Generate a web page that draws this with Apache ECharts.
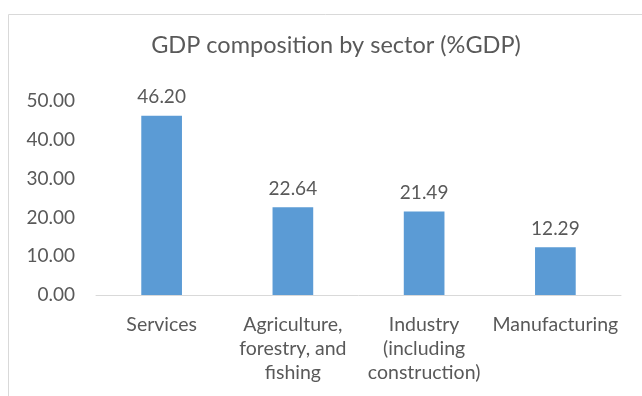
<!DOCTYPE html>
<html><head><meta charset="utf-8">
<script src="https://cdn.jsdelivr.net/npm/echarts@6/dist/echarts.min.js"></script>
<style>html,body{margin:0;padding:0;background:#fff}#c{width:642px;height:396px}</style>
</head><body><div id="c"></div>
<script>
var title = 'GDP composition by sector (%GDP)';
var categories = ['Services', 'Agriculture,\nforestry, and\nfishing', 'Industry\n(including\nconstruction)', 'Manufacturing'];
var values = [46.20, 22.64, 21.49, 12.29];
var yTicks = {min: 0, max: 50, interval: 10};

var FONT = 'Lato';
var TXT = '#595959';
var chart = echarts.init(document.getElementById('c'), null, {renderer: 'canvas'});
chart.setOption({
  animation: false,
  textStyle: {fontFamily: FONT},
  graphic: [{type: 'rect', shape: {x: 8.5, y: 14.5, width: 700, height: 500}, style: {fill: 'none', stroke: '#D9D9D9', lineWidth: 1}, z: -1}],
  title: {text: title, left: 331, textAlign: 'center', top: 28, textStyle: {fontFamily: FONT, fontSize: 23.5, fontWeight: 'normal', color: TXT}},
  grid: {left: 96, right: 21, top: 101, bottom: 101, containLabel: false},
  xAxis: {type: 'category', data: categories,
    axisLine: {lineStyle: {color: '#D9D9D9', width: 1}}, axisTick: {show: false},
    axisLabel: {color: TXT, fontFamily: FONT, fontSize: 19.5, lineHeight: 24, margin: 18, interval: 0}},
  yAxis: {type: 'value', min: yTicks.min, max: yTicks.max, interval: yTicks.interval,
    splitLine: {show: false}, axisLine: {show: false}, axisTick: {show: false},
    axisLabel: {color: TXT, fontFamily: FONT, fontSize: 19, margin: 21, formatter: function(v){return v.toFixed(2);}}},
  series: [{type: 'bar', data: values, barWidth: '31%', itemStyle: {color: '#5B9BD5'},
    label: {show: true, position: 'top', distance: 9, color: TXT, fontFamily: FONT, fontSize: 19, formatter: function(p){return p.value.toFixed(2);}}}]
});
</script></body></html>
